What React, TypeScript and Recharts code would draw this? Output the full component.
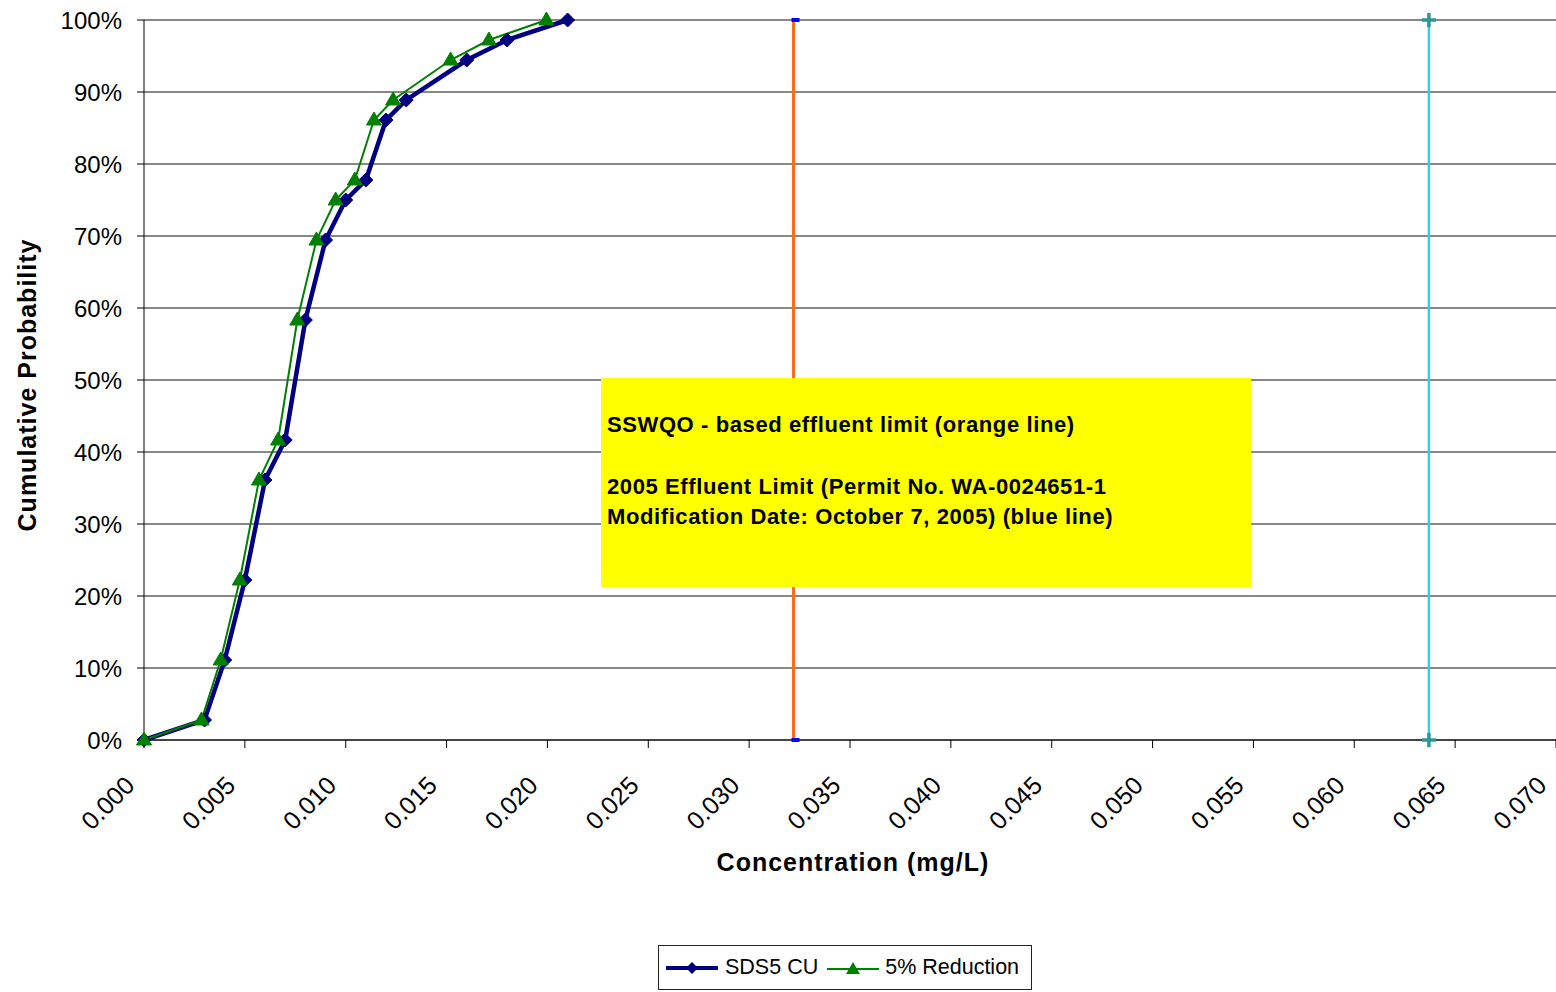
import React from "react";
import { CartesianGrid, Legend, Line, LineChart, XAxis, YAxis } from "recharts";

// concentration (mg/L) for each measured point
const SDS5_CONC = [0, 0.003, 0.004, 0.005, 0.006, 0.007, 0.008, 0.009, 0.01, 0.011, 0.012, 0.013, 0.016, 0.018, 0.021];
const REDUCED_CONC = [0, 0.00285, 0.0038, 0.00475, 0.0057, 0.00665, 0.0076, 0.00855, 0.0095, 0.01045, 0.0114, 0.01235, 0.0152, 0.0171, 0.01995];
// cumulative probability (%) shared by both series
const CUM_PROB = [0, 2.78, 11.11, 22.22, 36.11, 41.67, 58.33, 69.44, 75, 77.78, 86.11, 88.89, 94.44, 97.22, 100];

const SSWQO_LIMIT = 0.0322; // orange line
const PERMIT_LIMIT = 0.0637; // blue (cyan) line
const LIMIT_SPAN = [0, 100];

const X_TICKS = [0, 0.005, 0.01, 0.015, 0.02, 0.025, 0.03, 0.035, 0.04, 0.045, 0.05, 0.055, 0.06, 0.065, 0.07];
const Y_TICKS = [0, 10, 20, 30, 40, 50, 60, 70, 80, 90, 100];

const FONT = "'Liberation Sans', Arial, sans-serif";
const NAVY = "#000080";
const GREEN = "#008000";

const sdsData = SDS5_CONC.map((c, i) => ({ c, p: CUM_PROB[i] }));
const reducedData = REDUCED_CONC.map((c, i) => ({ c, p: CUM_PROB[i] }));
const sswqoData = LIMIT_SPAN.map((p) => ({ c: SSWQO_LIMIT, p }));
const permitData = LIMIT_SPAN.map((p) => ({ c: PERMIT_LIMIT, p }));

const diamond = (props: any) => {
  const { cx, cy, index } = props;
  const r = 7;
  return (
    <polygon
      key={`d-${index}`}
      points={`${cx},${cy - r} ${cx + r},${cy} ${cx},${cy + r} ${cx - r},${cy}`}
      fill={NAVY}
      stroke={NAVY}
    />
  );
};

const triangle = (props: any) => {
  const { cx, cy, index } = props;
  return (
    <polygon
      key={`t-${index}`}
      points={`${cx},${cy - 8} ${cx + 7.5},${cy + 5} ${cx - 7.5},${cy + 5}`}
      fill={GREEN}
      stroke={GREEN}
    />
  );
};

const dash = (props: any) => {
  const { cx, cy, index } = props;
  return <rect key={`s-${index}`} x={cx - 2} y={cy - 2} width={8} height={4} fill="#0000ff" />;
};

const plus = (props: any) => {
  const { cx, cy, index } = props;
  return (
    <g key={`p-${index}`} stroke="#2a9898" strokeWidth={3.5}>
      <line x1={cx - 7} y1={cy} x2={cx + 7} y2={cy} />
      <line x1={cx} y1={cy - 7} x2={cx} y2={cy + 7} />
    </g>
  );
};

function XTick({ x, y, payload }: any) {
  return (
    <text
      transform={`translate(${x - 8},${y + 37}) rotate(-45)`}
      textAnchor="end"
      fontSize={25}
      fontFamily={FONT}
      fill="#000"
    >
      {Number(payload.value).toFixed(3)}
    </text>
  );
}

function LegendBox() {
  return (
    <div
      style={{
        display: "flex",
        alignItems: "center",
        height: 43,
        border: "1px solid #222",
        background: "#fff",
        padding: "0 12px 0 7px",
        fontFamily: FONT,
        fontSize: 21.5,
        color: "#000",
      }}
    >
      <svg width={52} height={20}>
        <line x1={0} y1={10} x2={52} y2={10} stroke={NAVY} strokeWidth={4} />
        <polygon points="26,4 32,10 26,16 20,10" fill={NAVY} />
      </svg>
      <span style={{ marginLeft: 7 }}>SDS5 CU</span>
      <svg width={52} height={20} style={{ marginLeft: 9 }}>
        <line x1={0} y1={11} x2={52} y2={11} stroke={GREEN} strokeWidth={2} />
        <polygon points="26,4 33,16 19,16" fill={GREEN} />
      </svg>
      <span style={{ marginLeft: 6 }}>5% Reduction</span>
    </div>
  );
}

export default function App() {
  return (
    <div style={{ position: "absolute", left: 0, top: 0, width: 1556, height: 992, overflow: "hidden", background: "#fff" }}>
      <LineChart width={1556} height={992} margin={{ top: 20, right: 0, bottom: 2, left: 0 }}>
        <CartesianGrid vertical={false} stroke="#111" />
        <XAxis
          type="number"
          dataKey="c"
          domain={[0, 0.07]}
          ticks={X_TICKS}
          interval={0}
          height={205}
          tickSize={8}
          tick={<XTick />}
          axisLine={{ stroke: "#000" }}
          tickLine={{ stroke: "#000" }}
          label={{
            content: ({ viewBox }: any) => (
              <text
                x={viewBox.x + viewBox.width / 2 + 3}
                y={viewBox.y + 131}
                textAnchor="middle"
                fontSize={25}
                fontWeight="bold"
                letterSpacing={1}
                fontFamily={FONT}
                fill="#000"
              >
                Concentration (mg/L)
              </text>
            ),
          }}
        />
        <YAxis
          type="number"
          domain={[0, 100]}
          ticks={Y_TICKS}
          interval={0}
          width={144}
          tickSize={7}
          tickMargin={15}
          tickFormatter={(v: number) => `${v}%`}
          tick={{ fontSize: 24, fill: "#000", fontFamily: FONT }}
          axisLine={{ stroke: "#000" }}
          tickLine={{ stroke: "#000" }}
          label={{
            content: ({ viewBox }: any) => (
              <text
                transform={`translate(36,${viewBox.y + viewBox.height / 2 + 5}) rotate(-90)`}
                textAnchor="middle"
                fontSize={25}
                fontWeight="bold"
                letterSpacing={1}
                fontFamily={FONT}
                fill="#000"
              >
                Cumulative Probability
              </text>
            ),
          }}
        />
        <Legend
          verticalAlign="bottom"
          wrapperStyle={{ left: 658, bottom: 2, width: "auto" }}
          content={() => <LegendBox />}
        />
        <Line
          data={sdsData}
          dataKey="p"
          name="SDS5 CU"
          type="linear"
          stroke={NAVY}
          strokeWidth={4.5}
          dot={diamond}
          activeDot={false}
          isAnimationActive={false}
        />
        <Line
          data={reducedData}
          dataKey="p"
          name="5% Reduction"
          type="linear"
          stroke={GREEN}
          strokeWidth={2}
          dot={triangle}
          activeDot={false}
          isAnimationActive={false}
        />
        <Line
          data={sswqoData}
          dataKey="p"
          name="SSWQO limit"
          stroke="#ff6a1a"
          strokeWidth={3}
          dot={dash}
          activeDot={false}
          legendType="none"
          isAnimationActive={false}
        />
        <Line
          data={permitData}
          dataKey="p"
          name="2005 limit"
          stroke="#33ccee"
          strokeWidth={2.5}
          dot={plus}
          activeDot={false}
          legendType="none"
          isAnimationActive={false}
        />
      </LineChart>
      <div
        style={{
          position: "absolute",
          left: 601,
          top: 378,
          width: 650,
          height: 209,
          background: "#ffff00",
          fontFamily: FONT,
          fontSize: 22,
          fontWeight: "bold",
          letterSpacing: 0.6,
          color: "#000",
          paddingTop: 32,
          paddingLeft: 6,
          boxSizing: "border-box",
          lineHeight: "30px",
        }}
      >
        <div>SSWQO - based effluent limit (orange line)</div>
        <div style={{ height: 32 }} />
        <div>2005 Effluent Limit (Permit No. WA-0024651-1</div>
        <div>Modification Date: October 7, 2005) (blue line)</div>
      </div>
    </div>
  );
}
